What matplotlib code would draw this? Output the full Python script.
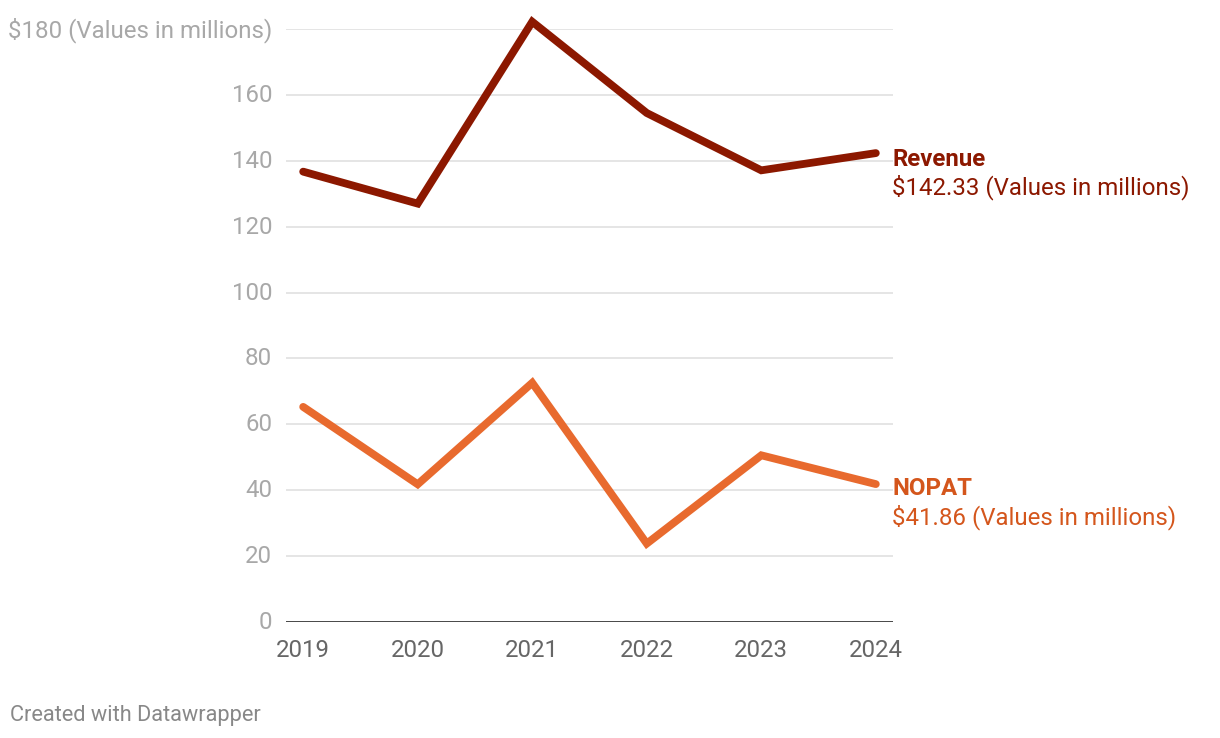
import matplotlib
matplotlib.use("Agg")
import matplotlib.pyplot as plt
import matplotlib.transforms as mtransforms

years = ["2019", "2020", "2021", "2022", "2023", "2024"]
revenue = [136.7, 127.0, 182.2, 154.5, 137.1, 142.33]
nopat = [65.3, 41.8, 72.6, 23.8, 50.6, 41.86]
yticks = [0, 20, 40, 60, 80, 100, 120, 140, 160, 180]
ytick_labels = ["0", "20", "40", "60", "80", "100", "120", "140", "160", "$180 (Values in millions)"]

REV_C = "#8C1800"
NOP_C = "#E86A2E"
NOP_TXT = "#D4561C"

plt.rcParams['font.family'] = ['Roboto', 'DejaVu Sans']

fig = plt.figure(figsize=(12.2, 7.38), dpi=100)
ax = fig.add_axes([286/1220, 1-622/738, (893-286)/1220, (622-29)/738])

x = list(range(len(years)))
ax.plot(x, revenue, color=REV_C, lw=5.6, solid_capstyle='round', solid_joinstyle='miter', clip_on=False, zorder=3)
ax.plot(x, nopat, color=NOP_C, lw=5.6, solid_capstyle='round', solid_joinstyle='miter', clip_on=False, zorder=3)

ax.set_xlim(-0.15, 5.15)
ax.set_ylim(0, 180)
ax.set_yticks(yticks)
ax.set_yticklabels(ytick_labels)
ax.set_xticks(x)
ax.set_xticklabels(years)

for s in ax.spines.values():
    s.set_visible(False)
ax.grid(axis='y', color='#e3e3e3', lw=1.3)
ax.set_axisbelow(True)
ax.axhline(0, color='#1a1a1a', lw=1.8, zorder=2)
ax.tick_params(axis='both', length=0)
ax.tick_params(axis='y', pad=10, labelsize=17.3, labelcolor='#a8a8a8')
ax.tick_params(axis='x', pad=12, labelsize=17.3, labelcolor='#666666')

shift = mtransforms.ScaledTranslation(0, 2/100, fig.dpi_scale_trans)
for lbl in ax.get_yticklabels():
    lbl.set_transform(lbl.get_transform() + shift)

ax.annotate("Revenue", xy=(x[-1], revenue[-1]), xytext=(12, -4.5), textcoords='offset points',
            color=REV_C, fontsize=17.3, fontweight='bold', va='center', ha='left', annotation_clip=False)
ax.annotate("$142.33 (Values in millions)", xy=(x[-1], revenue[-1]), xytext=(12, -24.5), textcoords='offset points',
            color=REV_C, fontsize=17.3, va='center', ha='left', annotation_clip=False)
ax.annotate("NOPAT", xy=(x[-1], nopat[-1]), xytext=(12, -3.5), textcoords='offset points',
            color=NOP_TXT, fontsize=17.3, fontweight='bold', va='center', ha='left', annotation_clip=False)
ax.annotate("$41.86 (Values in millions)", xy=(x[-1], nopat[-1]), xytext=(12, -23.5), textcoords='offset points',
            color=NOP_TXT, fontsize=17.3, va='center', ha='left', annotation_clip=False)

fig.text(10/1220, 1-715/738, "Created with Datawrapper", color='#888888', fontsize=15.7, va='center', ha='left')

fig.savefig("out.png", dpi=100)
